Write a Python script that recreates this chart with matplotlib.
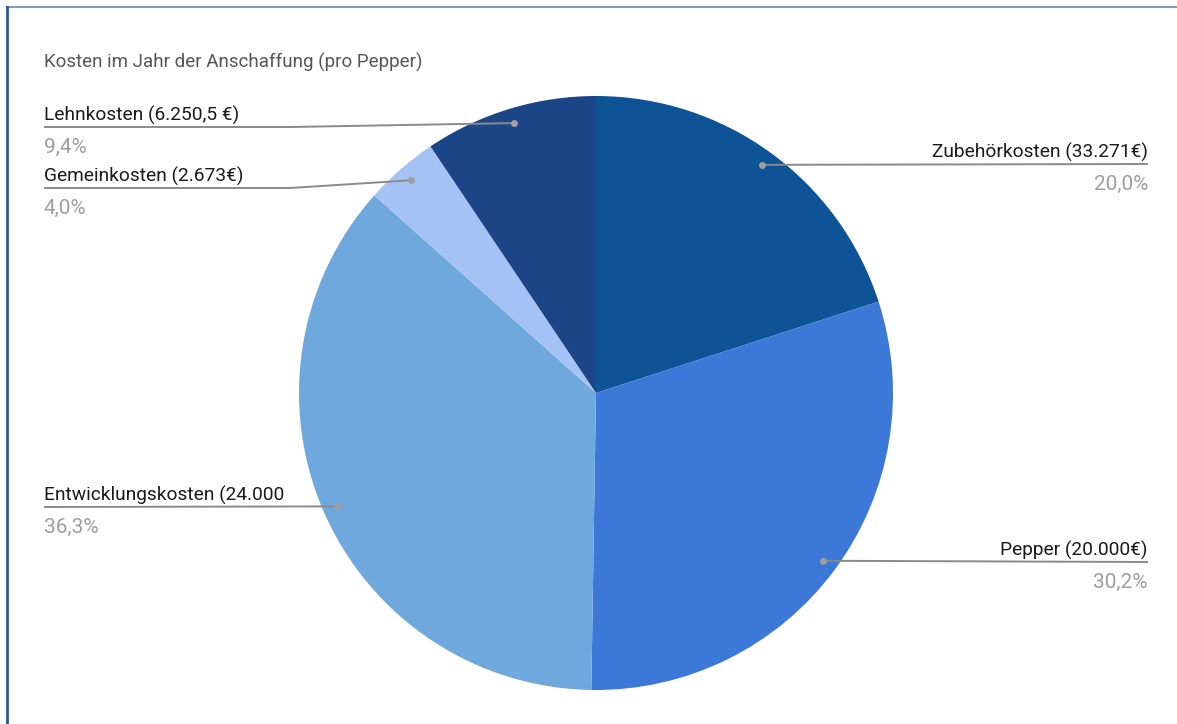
import matplotlib.pyplot as plt
import numpy as np

plt.rcParams['font.family'] = ['Roboto', 'DejaVu Sans']

categories = ["Zubehörkosten (33.271€)", "Pepper (20.000€)", "Entwicklungskosten (24.000",
              "Gemeinkosten (2.673€)", "Lehnkosten (6.250,5 €)"]
shares = [20.0, 30.2, 36.3, 4.0, 9.4]
pct_labels = ["20,0%", "30,2%", "36,3%", "4,0%", "9,4%"]
colors = ["#0e5395", "#3c78d8", "#6fa8dc", "#a4c2f4", "#1c4587"]

W, H = 1177, 724
fig = plt.figure(figsize=(W / 100, H / 100), dpi=100)
ax = fig.add_axes([0, 0, 1, 1])

cx, cy, r = 596, H - 393, 297
wedges, _ = ax.pie(shares, colors=colors, startangle=90, counterclock=False,
                   center=(cx, cy), radius=r, frame=True,
                   wedgeprops=dict(linewidth=0))
ax.set_xlim(0, W)
ax.set_ylim(0, H)
ax.set_aspect('equal')
ax.axis('off')

# label layout: line y in px from top
label_lines = [164, 562, 507, 188, 127]
line_color = "#8a8a8a"
for w, name, pct, ly in zip(wedges, categories, pct_labels, label_lines):
    ang = np.deg2rad((w.theta1 + w.theta2) / 2)
    dx = cx + 0.95 * r * np.cos(ang)
    dy = cy + 0.95 * r * np.sin(ang)
    yl = H - ly
    if np.cos(ang) > 0:
        xe, ha = 1148, 'right'
        xs, ys = [dx, xe], [dy, yl]
    else:
        xe, ha = 44, 'left'
        if abs(dy - yl) > 2:
            xs, ys = [dx, 290, xe], [dy, yl, yl]
        else:
            xs, ys = [dx, xe], [dy, yl]
    ax.plot(xs, ys, color=line_color, lw=1.4, solid_capstyle='butt', zorder=3)
    ax.plot(dx, dy, 'o', color="#a0a0a0", ms=5, mec='none', zorder=4)
    ax.text(xe, yl + 6, name, ha=ha, va='baseline', fontsize=13.8, color="#1a1a1a")
    ax.text(xe, yl - 26, pct, ha=ha, va='baseline', fontsize=15, color="#9e9e9e")

ax.text(44, H - 68, "Kosten im Jahr der Anschaffung (pro Pepper)", ha='left', va='baseline',
        fontsize=13.5, color="#555555")

# frame lines of the chart box
fig.add_artist(plt.Line2D([7 / W, 1], [1 - 7 / H, 1 - 7 / H], color="#8898b8", lw=1.5))
fig.add_artist(plt.Line2D([7 / W, 7 / W], [0, 1 - 7 / H], color="#2f5597", lw=2))

fig.savefig("out.png", dpi=100)
